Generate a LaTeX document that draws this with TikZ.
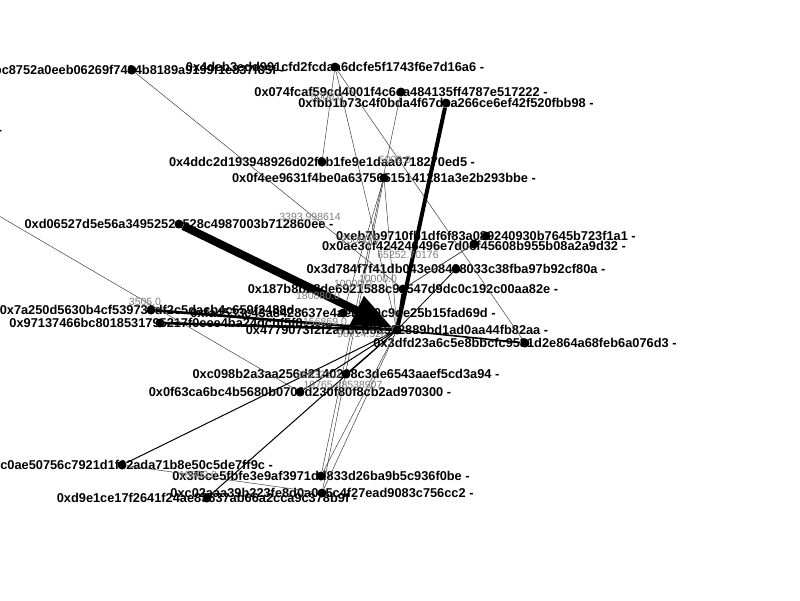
\documentclass[tikz,border=0pt]{standalone}
\usepackage{fontspec}
\setmainfont{Liberation Sans}
\usetikzlibrary{arrows.meta}
\pgfdeclarelayer{lab}
\pgfdeclarelayer{dots}
\pgfsetlayers{lab,main,dots}
\begin{document}
\begin{tikzpicture}[x=1pt,y=-1pt,
  dot/.style={circle,fill=black,inner sep=0pt,minimum size=9pt},
  lbl/.style={font=\fontsize{12.8}{14}\selectfont\bfseries,inner sep=0pt,text=black},
  el/.style={font=\fontsize{10.5}{12}\selectfont,text=black!50,inner sep=0pt},
  thinedge/.style={draw=black!75,line width=0.5pt},
  midedge/.style={draw=black,line width=1pt},
  bigedge/.style={draw=black,line width=#1},
]
\useasboundingbox (0,0) rectangle (800,600);
\begin{pgfonlayer}{dots}
\node[dot] (hub) at (397,330) {};
\node[dot] (d065) at (179,224) {};
\node[dot] (fbb1) at (446,103) {};
\node[dot] (a7a25) at (151,310) {};
\node[dot] (a9713) at (160,323) {};
\node[dot] (a3dfd) at (525,343) {};
\node[dot] (a187b) at (403,289) {};
\node[dot] (a3d78) at (456,269) {};
\node[dot] (aeb7b) at (486,236) {};
\node[dot] (a0ae3) at (474,244) {};
\node[dot] (a4deb) at (335,67) {};
\node[dot] (a4ddc) at (322,162) {};
\node[dot] (a074f) at (401,92) {};
\node[dot] (a0f4e) at (384,178) {};
\node[dot] (ac02a) at (322,493) {};
\node[dot] (afa45) at (343,313) {};
\node[dot] (abc87) at (132,70) {};
\node[dot] (aleft) at (-148,130) {};
\node[dot] (a0f63) at (300,392) {};
\node[dot] (ac0ae) at (122,465) {};
\node[dot] (ad9e1) at (207,498) {};
\node[dot] (ac098) at (346,374) {};
\node[dot] (a3f5c) at (321,476) {};
\end{pgfonlayer}
\begin{pgfonlayer}{lab}
\fill[white] (0,0) rectangle (800,600);
\node[lbl] at (hub) {0x4779073f2f2a7bcd8a522889bd1ad0aa44fb82aa -};
\node[lbl] at (d065) {0xd06527d5e56a3495252a528c4987003b712860ee -};
\node[lbl] at (fbb1) {0xfbb1b73c4f0bda4f67dca266ce6ef42f520fbb98 -};
\node[lbl] at (a7a25) {0x7a250d5630b4cf539739df2c5dacb4c659f2488d -};
\node[lbl] at (a9713) {0x97137466bc8018531795217f0eee4ba24dcbf5f8 -};
\node[lbl] at (a3dfd) {0x3dfd23a6c5e8bbcfc9581d2e864a68feb6a076d3 -};
\node[lbl] at (a187b) {0x187b8b28de6921588c9a547d9dc0c192c00aa82e -};
\node[lbl] at (a3d78) {0x3d784f7f41db043e08488033c38fba97b92cf80a -};
\node[lbl] at (aeb7b) {0xeb7b9710fb1df6f83a089240930b7645b723f1a1 -};
\node[lbl] at ([yshift=-2pt]a0ae3) {0x0ae3cf424246496e7d0cf45608b955b08a2a9d32 -};
\node[lbl] at (a4deb) {0x4deb3edd991cfd2fcdaa6dcfe5f1743f6e7d16a6 -};
\node[lbl] at (a4ddc) {0x4ddc2d193948926d02f9b1fe9e1daa0718270ed5 -};
\node[lbl] at (a074f) {0x074fcaf59cd4001f4c6ea484135ff4787e517222 -};
\node[lbl] at (a0f4e) {0x0f4ee9631f4be0a63756515141281a3e2b293bbe -};
\node[lbl] at (ac02a) {0xc02aaa39b223fe8d0a0e5c4f27ead9083c756cc2 -};
\node[lbl] at (afa45) {0xfa4533c43a8428637e4aebba0c9de25b15fad69d -};
\node[lbl] at (abc87) {0xbc8752a0eeb06269f7484b8189a9199f1e837f85f -};
\node[lbl] at (aleft) {0x2a0c0dbecc7e4d658f48e01e3fa353f44050c208 -};
\node[lbl] at (a0f63) {0x0f63ca6bc4b5680b0706d230f80f8cb2ad970300 -};
\node[lbl] at (ac0ae) {0x4bc0ae50756c7921d1f62ada71b8e50c5de7ff9c -};
\node[lbl] at (ad9e1) {0xd9e1ce17f2641f24ae83637ab66a2cca9c378b9f -};
\node[lbl] at (ac098) {0xc098b2a3aa256d2140208c3de6543aaef5cd3a94 -};
\node[lbl] at (a3f5c) {0x3f5ce5fbfe3e9af3971dd833d26ba9b5c936f0be -};
\end{pgfonlayer}
% thin edges
\draw[thinedge] (a4deb) -- (a4ddc);
\draw[thinedge] (a4deb) -- (a3dfd);
\draw[thinedge] (a4deb) -- (hub);
\draw[thinedge] (a074f) -- (a3f5c);
\draw[thinedge] (a0f4e) -- (hub);
\draw[thinedge] (a0f4e) -- (ac02a);
\draw[thinedge] (a0f4e) -- (afa45);
\draw[thinedge] (abc87) -- (a187b);
\draw[thinedge] (aleft) -- (a0f63);
\draw[thinedge] (aeb7b) -- (a187b);
\draw[thinedge] (a0ae3) -- (a187b);
\draw[thinedge] (hub) -- (a3f5c);
\draw[thinedge] (hub) -- (ac02a);
\draw[thinedge] (ac0ae) -- (ac02a);
\draw[thinedge] (afa45) -- (hub);
% medium edges
\draw[midedge] (ac0ae) -- (hub);
\draw[midedge] (ad9e1) -- (hub);
\draw[midedge] (a0f63) -- (hub);
\draw[midedge,line width=0.8pt] (ac098) -- (hub);
\draw[midedge,line width=0.8pt] (a3d78) -- (hub);
\draw[bigedge=1.6pt] (a3dfd) -- (hub);
\draw[bigedge=2pt] (a187b) -- (hub);
% heavy edges
\draw[bigedge=2.6pt] (a7a25) -- (hub);
\draw[bigedge=2.6pt] (a9713) -- (hub);
\draw[bigedge=4pt] (fbb1) -- (hub);
\draw[bigedge=8pt,-{Triangle[length=40pt,width=30pt]}] (d065) -- (hub);
% edge labels
\node[el] at (327,97) {5000.0};
\node[el] at (395,160) {5000.0};
\node[el] at (310,217) {3393.998614};
\node[el] at (360,240) {25000.0};
\node[el] at (408,255) {65252.70176};
\node[el] at (353,284) {10000.0};
\node[el] at (378,279) {10000.0};
\node[el] at (318,296) {180880.0};
\node[el] at (145,302) {3505.0};
\node[el] at (325,322) {156869.0};
\node[el] at (362,334) {98714.526};
\node[el] at (318,375) {256321.0};
\node[el] at (343,385) {19765.48538907};
\node[el] at (198,475) {10000.0};
\end{tikzpicture}
\end{document}
